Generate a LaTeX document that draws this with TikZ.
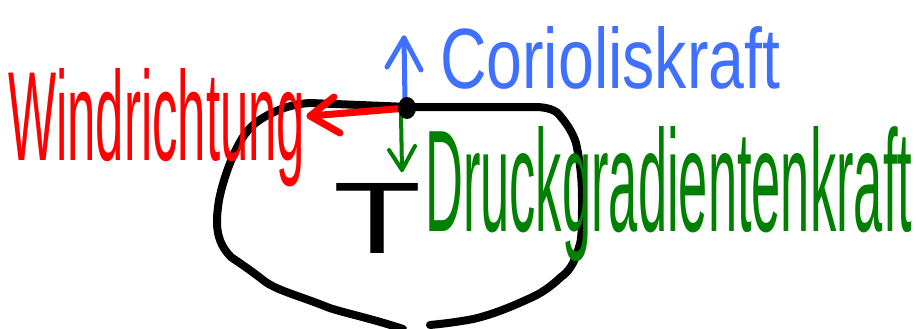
\documentclass[tikz,border=0pt]{standalone}
\usepackage{fontspec}
\setmainfont{Liberation Sans}
\usetikzlibrary{arrows.meta}
\definecolor{penblue}{RGB}{64,112,255}
\definecolor{penred}{RGB}{255,0,0}
\definecolor{pengreen}{RGB}{0,128,0}
\tikzset{
  pen/.style={line cap=round, line join=round},
  contour/.style={pen, line width=8pt, black},
  barb/.style={pen, line width=#1},
  word/.style={anchor=south west, inner sep=0pt},
}
\begin{document}
\begin{tikzpicture}[x=1pt, y=-1pt]
  \useasboundingbox (0,0) rectangle (916,329);
  \fill[white] (0,0) rectangle (916,329);

  % closed isobar around the low
  \draw[contour] (403,329) .. controls (370,318) and (340,312) .. (327,307)
     .. controls (300,296) and (275,290) .. (263,280)
     .. controls (245,266) and (232,258) .. (231,257)
     .. controls (214,240) and (216,220) .. (219,200)
     .. controls (224,175) and (236,145) .. (246,133)
     .. controls (256,118) and (285,104) .. (310,103)
     -- (409,107) -- (538,107)
     .. controls (552,108) and (558,112) .. (561,117)
     .. controls (572,130) and (575,140) .. (576,143)
     .. controls (582,170) and (582,190) .. (582,200)
     .. controls (582,225) and (582,240) .. (579,247)
     .. controls (574,265) and (568,272) .. (561,277)
     .. controls (545,292) and (535,296) .. (526,300)
     .. controls (500,312) and (480,318) .. (468,320)
     .. controls (450,323) and (440,324) .. (430,325);

  \coordinate (parcel) at (407,108);

  % wind direction
  \coordinate (windtip) at (310,116);
  \draw[barb=7pt, penred] (parcel) -- (windtip);
  \draw[barb=7pt, penred] (334,97) -- (windtip) -- (340,133);

  % Coriolis force
  \coordinate (cortip) at (404,38);
  \draw[barb=5pt, penblue] (405,102) -- (cortip);
  \draw[barb=5pt, penblue] (387,67) -- (cortip) -- (421,70);

  % pressure gradient force
  \coordinate (drtip) at (402,170);
  \draw[barb=4pt, pengreen] (401,115) -- (drtip);
  \draw[barb=4pt, pengreen] (389,150) -- (drtip) -- (415,146);

  % air parcel on the isobar
  \fill[black] (parcel) ellipse [x radius=9pt, y radius=11pt];

  % labels
  \node[word] (tief) at (333,254) {\resizebox{88pt}{70pt}{T}};
  \node[word, text=penblue] (coriolis) at (440,90)
    {\resizebox{340pt}{62pt}{Corioliskraft}};
  \node[word, text=penred] (wind) at (8,187)
    {\resizebox{297pt}{92pt}{Windrichtung}};
  \node[word, text=pengreen] (druck) at (425,262)
    {\resizebox{487pt}{105pt}{Druckgradientenkraft}};
\end{tikzpicture}
\end{document}
